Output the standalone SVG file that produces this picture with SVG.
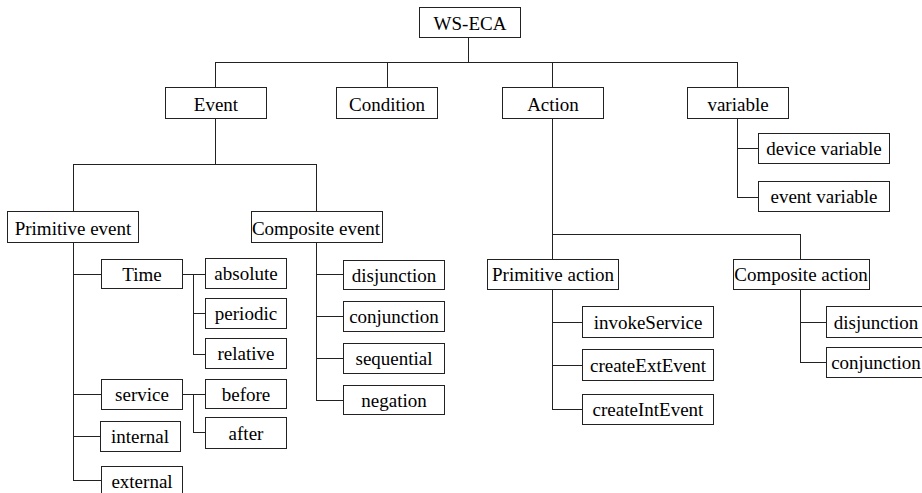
<svg xmlns="http://www.w3.org/2000/svg" width="922" height="493" viewBox="0 0 922 493">
  <style>
    .box { fill: #fff; stroke: #222; stroke-width: 1; }
    .lbl { font-family: "Liberation Serif", "Times New Roman", serif; font-size: 19px; fill: #000; text-anchor: middle; }
    .wire { fill: none; stroke: #222; stroke-width: 1; }
  </style>
  <rect width="922" height="493" fill="#fff"/>

  <!-- connectors -->
  <g id="connectors">
    <path class="wire" d="M468.5 37 V62" stroke-width="2"/>
    <path class="wire" d="M215.5 62.5 H737.5 M215.5 62 V87 M387.5 62 V87 M552.5 62 V87 M737.5 62 V87"/>
    <!-- Event subtree -->
    <path class="wire" d="M215.5 118 V164.5 M73.5 164.5 H316.5 M73.5 164 V211 M316.5 164 V211"/>
    <path class="wire" d="M73.5 242 V480.5 M73 274.5 H101 M73 394.5 H101 M73 436.5 H100 M73 480.5 H101"/>
    <path class="wire" d="M182 274.5 H205 M193.5 274 V354.5 M193 313.5 H205 M193 354.5 H205"/>
    <path class="wire" d="M182 394.5 H205 M193.5 394 V432.5 M193 432.5 H205"/>
    <path class="wire" d="M316.5 242 V400.5 M316 274.5 H343 M316 316.5 H343 M316 358.5 H343 M316 400.5 H343"/>
    <!-- variable subtree -->
    <path class="wire" d="M737.5 118 V197.5 M737 148.5 H758 M737 197.5 H758"/>
    <!-- Action subtree -->
    <path class="wire" d="M552.5 118 V259 M552 234.5 H800.5 M800.5 234 V259"/>
    <path class="wire" d="M552.5 289 V409.5 M552 322.5 H582 M552 365.5 H582 M552 409.5 H582"/>
    <path class="wire" d="M800.5 289 V362.5 M800 322.5 H826 M800 362.5 H826"/>
  </g>

  <g id="ws-eca"><rect class="box" x="419.5" y="7.5" width="101" height="30"/><text class="lbl" x="470" y="30">WS-ECA</text></g>

  <g id="event"><rect class="box" x="165.5" y="87.5" width="101" height="31"/><text class="lbl" x="216" y="111">Event</text></g>
  <g id="condition"><rect class="box" x="336.5" y="87.5" width="101" height="31"/><text class="lbl" x="387" y="111">Condition</text></g>
  <g id="action"><rect class="box" x="502.5" y="87.5" width="101" height="31"/><text class="lbl" x="553" y="111">Action</text></g>
  <g id="variable"><rect class="box" x="687.5" y="87.5" width="101" height="31"/><text class="lbl" x="738" y="111">variable</text></g>

  <g id="primitive-event"><rect class="box" x="7.5" y="211.5" width="131" height="31"/><text class="lbl" x="73" y="235">Primitive event</text></g>
  <g id="composite-event"><rect class="box" x="251.5" y="211.5" width="131" height="31"/><text class="lbl" x="316" y="235">Composite event</text></g>

  <g id="time"><rect class="box" x="101.5" y="259.5" width="81" height="29"/><text class="lbl" x="142" y="281">Time</text></g>
  <g id="absolute"><rect class="box" x="205.5" y="258.5" width="81" height="30"/><text class="lbl" x="246" y="280">absolute</text></g>
  <g id="periodic"><rect class="box" x="205.5" y="298.5" width="81" height="30"/><text class="lbl" x="246" y="320">periodic</text></g>
  <g id="relative"><rect class="box" x="205.5" y="338.5" width="81" height="30"/><text class="lbl" x="246" y="360">relative</text></g>
  <g id="service"><rect class="box" x="101.5" y="379.5" width="81" height="30"/><text class="lbl" x="142" y="401">service</text></g>
  <g id="before"><rect class="box" x="205.5" y="379.5" width="81" height="29"/><text class="lbl" x="246" y="401">before</text></g>
  <g id="after"><rect class="box" x="205.5" y="417.5" width="81" height="31"/><text class="lbl" x="246" y="440">after</text></g>
  <g id="internal"><rect class="box" x="100.5" y="421.5" width="80" height="30"/><text class="lbl" x="140" y="443">internal</text></g>
  <g id="external"><rect class="box" x="101.5" y="466.5" width="81" height="30"/><text class="lbl" x="142" y="488">external</text></g>

  <g id="ce-disjunction"><rect class="box" x="343.5" y="260.5" width="101" height="29"/><text class="lbl" x="394" y="282">disjunction</text></g>
  <g id="ce-conjunction"><rect class="box" x="343.5" y="301.5" width="101" height="30"/><text class="lbl" x="394" y="323">conjunction</text></g>
  <g id="ce-sequential"><rect class="box" x="343.5" y="343.5" width="101" height="30"/><text class="lbl" x="394" y="365">sequential</text></g>
  <g id="ce-negation"><rect class="box" x="343.5" y="385.5" width="101" height="29"/><text class="lbl" x="394" y="407">negation</text></g>

  <g id="device-variable"><rect class="box" x="758.5" y="133.5" width="131" height="30"/><text class="lbl" x="824" y="155">device variable</text></g>
  <g id="event-variable"><rect class="box" x="758.5" y="181.5" width="131" height="30"/><text class="lbl" x="824" y="203">event variable</text></g>

  <g id="primitive-action"><rect class="box" x="487.5" y="259.5" width="131" height="30"/><text class="lbl" x="553" y="281">Primitive action</text></g>
  <g id="composite-action"><rect class="box" x="733.5" y="259.5" width="136" height="30"/><text class="lbl" x="801" y="281">Composite action</text></g>

  <g id="invoke-service"><rect class="box" x="582.5" y="306.5" width="131" height="31"/><text class="lbl" x="648" y="329">invokeService</text></g>
  <g id="create-ext-event"><rect class="box" x="582.5" y="349.5" width="131" height="31"/><text class="lbl" x="648" y="372">createExtEvent</text></g>
  <g id="create-int-event"><rect class="box" x="582.5" y="394.5" width="131" height="30"/><text class="lbl" x="648" y="416">createIntEvent</text></g>

  <g id="ca-disjunction"><rect class="box" x="826.5" y="306.5" width="100" height="31"/><text class="lbl" x="876" y="329">disjunction</text></g>
  <g id="ca-conjunction"><rect class="box" x="826.5" y="347.5" width="100" height="30"/><text class="lbl" x="876" y="369">conjunction</text></g>
</svg>
